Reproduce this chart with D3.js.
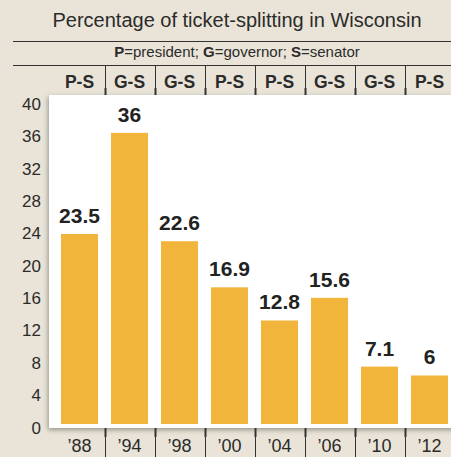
<!DOCTYPE html>
<meta charset="utf-8">
<style>
body { margin: 0; background: #e9e4d7; font-family: "Liberation Sans", Arial, sans-serif; }
svg { display: block; }
.ylab { font-size: 17px; fill: #2b2b2b; text-anchor: end; }
.xlab { font-size: 18px; fill: #2b2b2b; text-anchor: middle; }
.val { font-size: 21px; font-weight: bold; fill: #222; text-anchor: middle; }
.hdr { font-size: 17.5px; font-weight: bold; fill: #2b2b2b; text-anchor: middle; }
.sep { stroke: #333; }
</style>
<body>
<script src="https://cdn.jsdelivr.net/npm/d3@7"></script>
<script>
// data
var years = ["\u201988", "\u201994", "\u201998", "\u201900", "\u201904", "\u201906", "\u201910", "\u201912"];
var races = ["P-S", "G-S", "G-S", "P-S", "P-S", "G-S", "G-S", "P-S"];
var values = [23.5, 36, 22.6, 16.9, 12.8, 15.6, 7.1, 6];
var yTicks = [0, 4, 8, 12, 16, 20, 24, 28, 32, 36, 40];

var W = 451, H = 457;
var svg = d3.select("body").append("svg").attr("width", W).attr("height", H);

var defs = svg.append("defs");
var f = defs.append("filter").attr("id", "shadow")
    .attr("x", "-10%").attr("y", "-10%").attr("width", "130%").attr("height", "130%");
f.append("feDropShadow").attr("dx", -1).attr("dy", 2).attr("stdDeviation", 2.5)
    .attr("flood-color", "#000").attr("flood-opacity", 0.35);

var x = d3.scaleBand().domain(d3.range(values.length))
    .range([54.5, 454.5]).paddingInner(0.26).paddingOuter(0.13);
var y = d3.scaleLinear().domain([0, 40]).range([424, 100.5]);
var step = x.step();

// title block
svg.append("text").attr("x", 237).attr("y", 27).attr("text-anchor", "middle")
    .style("font-size", "20px").style("fill", "#2b2b2b")
    .text("Percentage of ticket-splitting in Wisconsin");
svg.append("line").attr("x1", 13).attr("x2", W).attr("y1", 41.5).attr("y2", 41.5)
    .attr("stroke", "#333").attr("stroke-width", 1);
var sub = svg.append("text").attr("x", 237).attr("y", 57).attr("text-anchor", "middle")
    .style("font-size", "15px").style("fill", "#2b2b2b");
[["P", "=president; "], ["G", "=governor; "], ["S", "=senator"]].forEach(function(p) {
  sub.append("tspan").attr("font-weight", "bold").text(p[0]);
  sub.append("tspan").text(p[1]);
});
svg.append("line").attr("x1", 13).attr("x2", W).attr("y1", 65.5).attr("y2", 65.5)
    .attr("stroke", "#333").attr("stroke-width", 1);

// header race labels
svg.selectAll(".hdr").data(races).enter().append("text")
    .attr("class", "hdr")
    .attr("x", function(d, i) { return x(i) + x.bandwidth() / 2; })
    .attr("y", 88)
    .text(function(d) { return d; });

// white panel
svg.append("rect").attr("x", 49).attr("y", 95).attr("width", W - 49 + 10).attr("height", 333)
    .attr("fill", "#fff").attr("filter", "url(#shadow)");

// separators (top & bottom)
var seps = d3.range(values.length - 1);
function sepX(i) { return Math.round(x(i) + x.bandwidth() + step * 0.13) + 0.5; }
svg.selectAll(".sepTop").data(seps).enter().append("line")
    .attr("class", "sep").attr("stroke-width", 1)
    .attr("x1", sepX).attr("x2", sepX).attr("y1", 66).attr("y2", 95);
svg.selectAll(".sepTopB").data(seps).enter().append("line")
    .attr("class", "sep").attr("stroke-width", 2)
    .attr("x1", sepX).attr("x2", sepX).attr("y1", 88).attr("y2", 95);
svg.selectAll(".sepBot").data(seps).enter().append("line")
    .attr("class", "sep").attr("stroke-width", 1)
    .attr("x1", sepX).attr("x2", sepX).attr("y1", 428).attr("y2", H);
svg.selectAll(".sepBotB").data(seps).enter().append("line")
    .attr("class", "sep").attr("stroke-width", 2)
    .attr("x1", sepX).attr("x2", sepX).attr("y1", 428).attr("y2", 437);

// y labels
svg.selectAll(".ylab").data(yTicks).enter().append("text")
    .attr("class", "ylab")
    .attr("x", 41)
    .attr("y", function(d) { return y(d) + 9.5; })
    .text(function(d) { return d; });

// bars
svg.selectAll(".bar").data(values).enter().append("rect")
    .attr("class", "bar")
    .attr("x", function(d, i) { return x(i); })
    .attr("width", x.bandwidth())
    .attr("y", function(d) { return y(d); })
    .attr("height", function(d) { return y(0) - y(d); })
    .attr("fill", "#f2b53c");

// values
svg.selectAll(".val").data(values).enter().append("text")
    .attr("class", "val")
    .attr("x", function(d, i) { return x(i) + x.bandwidth() / 2; })
    .attr("y", function(d) { return y(d) - 11; })
    .text(function(d) { return d; });

// x labels
svg.selectAll(".xlab").data(years).enter().append("text")
    .attr("class", "xlab")
    .attr("x", function(d, i) { return x(i) + x.bandwidth() / 2; })
    .attr("y", 452)
    .text(function(d) { return d; });
</script>
</body>
